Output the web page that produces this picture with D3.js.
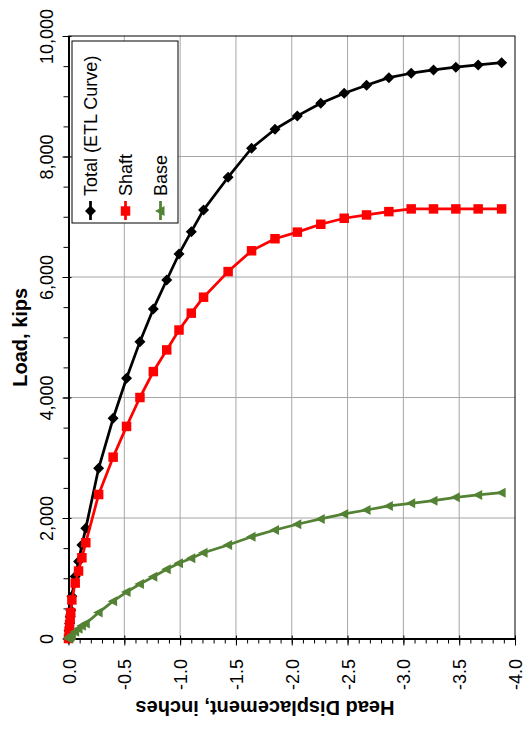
<!DOCTYPE html>
<html>
<head>
<meta charset="utf-8">
<script src="https://cdn.jsdelivr.net/npm/d3@7"></script>
<style>
  body { margin: 0; background: #fff; }
  text { font-family: "Liberation Sans", Arial, sans-serif; }
</style>
</head>
<body>
<script>
// head displacement (inches)
var disp = [0, -0.005, -0.01, -0.015, -0.02, -0.03, -0.06, -0.09, -0.12, -0.155, -0.27, -0.40, -0.52,
            -0.64, -0.76, -0.88, -0.99, -1.10, -1.21, -1.43, -1.64, -1.85, -2.05, -2.26, -2.47,
            -2.67, -2.87, -3.07, -3.27, -3.47, -3.67, -3.88];
// load, kips
var totalLoad = [0, 130, 250, 360, 470, 700, 1030, 1280, 1550, 1830, 2825, 3655, 4319,
                 4927, 5470, 5951, 6383, 6753, 7113, 7656, 8137, 8453, 8674, 8884, 9050,
                 9183, 9309, 9382, 9437, 9482, 9520, 9558];
var shaftLoad = [0, 120, 230, 330, 430, 640, 920, 1120, 1340, 1590, 2390, 3010, 3520,
                 4000, 4430, 4790, 5120, 5400, 5665, 6090, 6435, 6635, 6745, 6875, 6975,
                 7030, 7085, 7130, 7130, 7130, 7130, 7130];
var baseLoad = [0, 10, 20, 30, 40, 60, 110, 160, 210, 250, 430, 620, 770,
                905, 1026, 1149, 1248, 1331, 1424, 1552, 1690, 1801, 1896, 1984, 2067,
                2133, 2200, 2244, 2287, 2344, 2382, 2420];
var seriesNames = ["Total (ETL Curve)", "Shaft", "Base"];
var loadTicks = [0, 2000, 4000, 6000, 8000, 10000];
var loadMinor = d3.range(0, 10001, 500);
var dispTicks = [0, -0.5, -1.0, -1.5, -2.0, -2.5, -3.0, -3.5, -4.0];
var dispMinor = d3.range(0, 41).map(function(i){ return -i / 10; });

var W = 530, H = 730;
var plotL = 68.5, plotR = 515, plotT = 36, plotB = 638.5;

var svg = d3.select("body").append("svg")
    .attr("width", W).attr("height", H);

// the whole chart is turned on its side: load runs up, displacement runs right
var x = d3.scaleLinear().domain([0, -4]).range([plotL, plotR]);
var y = d3.scaleLinear().domain([0, 10000]).range([plotB, plotT]);

// gridlines
svg.append("g").selectAll("line")
    .data(dispTicks.filter(function(d){ return d != 0 && d != -4; }))
    .enter().append("line")
    .attr("x1", function(d){ return x(d); }).attr("x2", function(d){ return x(d); })
    .attr("y1", plotT).attr("y2", plotB)
    .attr("stroke", "#a6a6a6").attr("stroke-width", 1);
svg.append("g").selectAll("line")
    .data(loadTicks.filter(function(d){ return d != 0 && d != 10000; }))
    .enter().append("line")
    .attr("y1", function(d){ return y(d); }).attr("y2", function(d){ return y(d); })
    .attr("x1", plotL).attr("x2", plotR)
    .attr("stroke", "#a6a6a6").attr("stroke-width", 1);

// plot frame
svg.append("rect")
    .attr("x", plotL).attr("y", plotT)
    .attr("width", plotR - plotL).attr("height", plotB - plotT)
    .attr("fill", "none").attr("stroke", "#000").attr("stroke-width", 1);

// minor ticks
svg.append("g").attr("transform", "translate(0," + plotB + ")")
    .call(d3.axisBottom(x).tickValues(dispMinor).tickSize(5).tickFormat(""))
    .call(function(g){ g.select(".domain").remove(); });
svg.append("g").attr("transform", "translate(" + plotL + ",0)")
    .call(d3.axisLeft(y).tickValues(loadMinor).tickSize(5).tickFormat(""))
    .call(function(g){ g.select(".domain").remove(); });

// major ticks + labels
var xAxis = svg.append("g").attr("transform", "translate(0," + plotB + ")")
    .call(d3.axisBottom(x).tickValues(dispTicks).tickSizeInner(7).tickSizeOuter(0)
        .tickFormat(function(d){ return d.toFixed(1); }));
xAxis.select(".domain").attr("stroke-width", 2);
xAxis.selectAll(".tick line").attr("y1", -3).attr("stroke-width", 1);
xAxis.selectAll(".tick text")
    .attr("x", 0).attr("y", 0).attr("dy", null)
    .attr("transform", "translate(6.5,20.5) rotate(-90)")
    .attr("text-anchor", "end")
    .attr("font-size", 18).attr("fill", "#000");

var yAxis = svg.append("g").attr("transform", "translate(" + plotL + ",0)")
    .call(d3.axisLeft(y).tickValues(loadTicks).tickSizeInner(6).tickSizeOuter(0)
        .tickFormat(d3.format(",")));
yAxis.select(".domain").attr("stroke-width", 2);
yAxis.selectAll(".tick line").attr("x1", 3).attr("stroke-width", 1);
yAxis.selectAll(".tick text")
    .attr("x", 0).attr("y", 0).attr("dy", null)
    .attr("transform", "translate(-15.5,0) rotate(-90)")
    .attr("text-anchor", "middle")
    .attr("font-size", 18).attr("fill", "#000");
svg.selectAll(".tick text").attr("font-family", "Liberation Sans, Arial, sans-serif");

// axis titles
svg.append("text")
    .attr("transform", "translate(27," + ((plotT + plotB) / 2) + ") rotate(-90)")
    .attr("text-anchor", "middle")
    .attr("font-size", 20).attr("font-weight", "bold")
    .text("Load, kips");
svg.append("text")
    .attr("transform", "translate(265,701) rotate(180)")
    .attr("text-anchor", "middle")
    .attr("font-size", 20).attr("font-weight", "bold")
    .text("Head Displacement, inches");

// markers
var diamond = "M0,-5.5L5.5,0L0,5.5L-5.5,0Z";
var square = d3.symbol().type(d3.symbolSquare).size(90)();
var triangle = "M-5.5,0L4,-5L4,5Z";

var series = [
    {name: seriesNames[0], vals: totalLoad, color: "#000000", marker: diamond},
    {name: seriesNames[1], vals: shaftLoad, color: "#ff0000", marker: square},
    {name: seriesNames[2], vals: baseLoad, color: "#548235", marker: triangle}
];

var line = d3.line()
    .x(function(d){ return x(d[0]); })
    .y(function(d){ return y(d[1]); });

series.forEach(function(s){
    var pts = d3.zip(disp, s.vals);
    svg.append("path")
        .attr("d", line(pts))
        .attr("fill", "none").attr("stroke", s.color)
        .attr("stroke-width", 2.75).attr("stroke-linejoin", "round");
    svg.append("g").selectAll("path")
        .data(pts).enter().append("path")
        .attr("d", s.marker)
        .attr("transform", function(d){ return "translate(" + x(d[0]) + "," + y(d[1]) + ")"; })
        .attr("fill", s.color);
});

// legend
var legend = svg.append("g");
legend.append("rect")
    .attr("x", 72).attr("y", 41).attr("width", 106).attr("height", 182)
    .attr("fill", "#fff").attr("stroke", "#000").attr("stroke-width", 1);
series.forEach(function(s, i){
    var bx = 97 + i * 35, cx = bx - 6.5;
    legend.append("line")
        .attr("x1", cx).attr("x2", cx).attr("y1", 201).attr("y2", 220)
        .attr("stroke", s.color).attr("stroke-width", 2.75);
    legend.append("path")
        .attr("d", s.marker)
        .attr("transform", "translate(" + cx + ",211)")
        .attr("fill", s.color);
    legend.append("text")
        .attr("transform", "translate(" + bx + ",196) rotate(-90)")
        .attr("font-size", 18)
        .text(s.name);
});
</script>
</body>
</html>
